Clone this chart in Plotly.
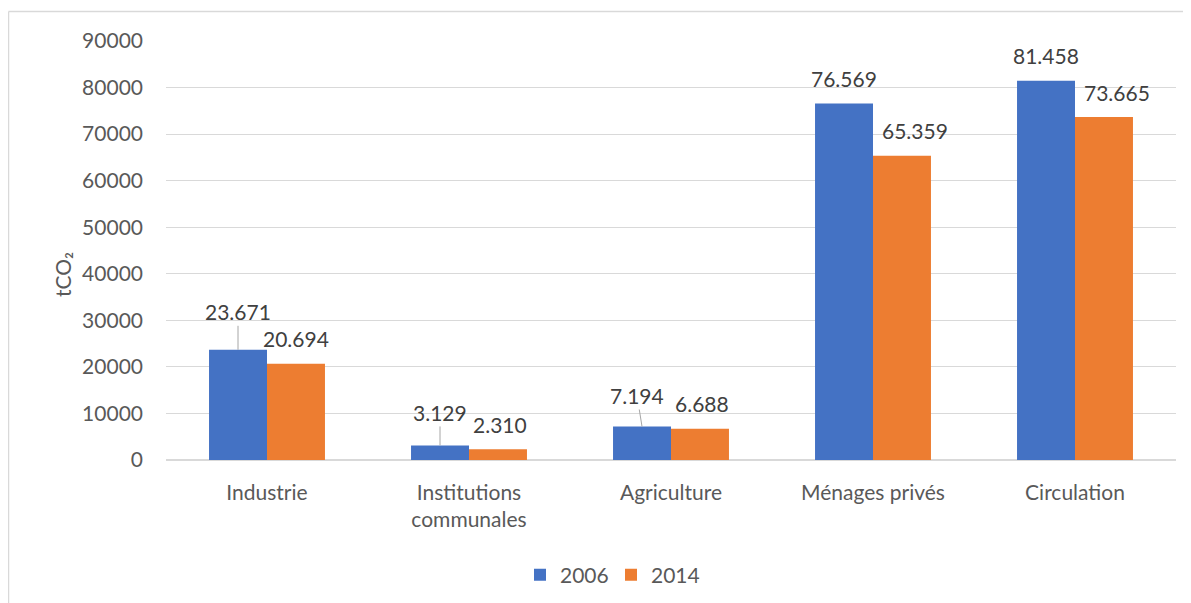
import plotly.graph_objects as go

categories = ["Industrie", "Institutions<br>communales", "Agriculture", "Ménages privés", "Circulation"]
series_names = ["2006", "2014"]
values_2006 = [23671, 3129, 7194, 76569, 81458]
values_2014 = [20694, 2310, 6688, 65359, 73665]
y_ticks = [0, 10000, 20000, 30000, 40000, 50000, 60000, 70000, 80000, 90000]

colors = ["#4472C4", "#ED7D31"]
FONT = "Lato"
TXT = "#595959"
LBL = "#404040"

OFF = 8  # page body margin
W, H = 1191 - OFF, 603 - OFF
L, R, T, B = 166 - OFF, 15, 41 - OFF, 143
plot_w = W - L - R
plot_h = H - T - B
bargap = 0.426
bar_px = plot_w / len(categories) * (1 - bargap) / 2

def px_x(p):  # page pixel -> paper x
    return (p - OFF - L) / plot_w

def px_y(p):  # page pixel -> paper y
    return (H - B - (p - OFF)) / plot_h

def fmt(v):
    return f"{v:,}".replace(",", ".")

fig = go.Figure()
for name, vals, col in zip(series_names, [values_2006, values_2014], colors):
    fig.add_trace(go.Bar(name=name, x=categories, y=vals, marker=dict(color=col, line=dict(width=0))))

# label styling: leader lines (ax, ay) and small horizontal nudges (px)
leader = {(0, 0): (0, -38), (0, 1): (0, -33), (0, 2): (-5, -31)}
nudge = {(1, 1): 2, (1, 2): 2, (1, 3): 13, (1, 4): 13}
ann = []
for si, vals in enumerate([values_2006, values_2014]):
    base = -bar_px / 2 if si == 0 else bar_px / 2
    for ci, v in enumerate(vals):
        xs = base + nudge.get((si, ci), 0)
        if (si, ci) in leader:
            ax, ay = leader[(si, ci)]
            ann.append(dict(x=categories[ci], y=v, xref="x", yref="y", text=fmt(v), xshift=xs,
                            showarrow=True, arrowhead=0, arrowwidth=1, arrowcolor="#a6a6a6",
                            ax=ax, ay=ay, standoff=0, font=dict(family=FONT, size=21, color=LBL)))
        else:
            ann.append(dict(x=categories[ci], y=v, xref="x", yref="y", text=fmt(v), xshift=xs,
                            yshift=25, showarrow=False, yanchor="middle",
                            font=dict(family=FONT, size=21, color=LBL)))

ann.append(dict(x=px_x(62), y=px_y(275), xref="paper", yref="paper", xanchor="center", yanchor="middle",
                text="tCO₂", textangle=-90, showarrow=False,
                font=dict(family=FONT, size=21, color=TXT)))

shapes = [
    dict(type="line", xref="paper", yref="paper", x0=px_x(8.5), x1=px_x(1200),
         y0=px_y(11.5), y1=px_y(11.5), line=dict(color="#d9d9d9", width=1.5)),
    dict(type="line", xref="paper", yref="paper", x0=px_x(8.5), x1=px_x(8.5),
         y0=px_y(11.5), y1=px_y(610), line=dict(color="#d9d9d9", width=1.5)),
]

fig.update_layout(
    width=W, height=H,
    margin=dict(l=L, r=R, t=T, b=B, autoexpand=False),
    paper_bgcolor="white", plot_bgcolor="white",
    barmode="group", bargap=bargap, bargroupgap=0,
    font=dict(family=FONT, size=21, color=TXT),
    legend=dict(orientation="h", x=px_x(611), xanchor="center",
                y=px_y(575), yanchor="middle", entrywidth=46, entrywidthmode="pixels",
                font=dict(family=FONT, size=21, color=TXT), itemwidth=30, traceorder="normal"),
    annotations=ann, shapes=shapes,
    xaxis=dict(showgrid=False, showline=False, ticks="", ticklabelstandoff=18, automargin=False,
               tickfont=dict(family=FONT, size=21, color=TXT)),
    yaxis=dict(range=[0, 90000], tickvals=y_ticks, ticktext=[str(t) for t in y_ticks], automargin=False,
               showgrid=True, gridcolor="#d9d9d9", gridwidth=1, zeroline=True, zerolinecolor="#d9d9d9",
               showline=False, ticks="", ticklabelstandoff=22,
               tickfont=dict(family=FONT, size=21, color=TXT)),
    showlegend=True,
)

fig.write_html("out.html")
